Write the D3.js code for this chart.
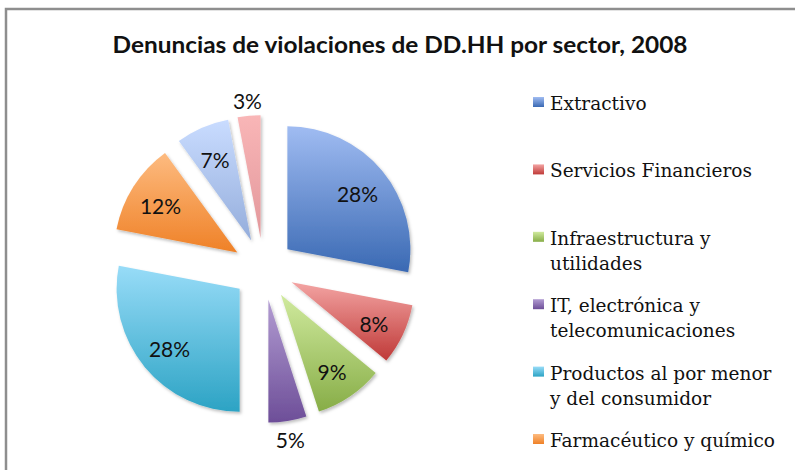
<!DOCTYPE html>
<html lang="es">
<head>
<meta charset="utf-8">
<title>Denuncias de violaciones de DD.HH por sector, 2008</title>
<script src="https://d3js.org/d3.v7.min.js"></script>
<style>
  body { margin: 0; background: #fff; }
  .slice-label { font-family: Lato, "Open Sans", sans-serif; font-size: 21px; fill: #111; }
  .legend-text { font-family: "DejaVu Serif", serif; font-size: 18.5px; fill: #111; }
</style>
</head>
<body>
<script>
  // ---- data ----
  const sectors = [
    "Extractivo",
    "Servicios Financieros",
    "Infraestructura y utilidades",
    "IT, electrónica y telecomunicaciones",
    "Productos al por menor y del consumidor",
    "Farmacéutico y químico",
    "Alimentos y bebidas",
    "Otros"
  ];
  const shares = [28, 8, 9, 5, 28, 12, 7, 3];
  // gradient stops per slice, top -> bottom
  const topColors    = ["#a0bcf2", "#f3a4a3", "#d0ea9e", "#b29cd2", "#98dcf8", "#fdbb80", "#c9dcff", "#f9b6b7"];
  const bottomColors = ["#3a69b3", "#bf3937", "#87ad47", "#6d4e98", "#2ca3c4", "#ef8127", "#94addb", "#e2979b"];

  const width = 795, height = 470;
  const cx = 263.5, cy = 269, radius = 123, explode = 31;

  const svg = d3.select("body").append("svg")
    .attr("width", width)
    .attr("height", height);

  const defs = svg.append("defs");

  const shadow = defs.append("filter")
    .attr("id", "shadow")
    .attr("x", "-20%").attr("y", "-20%")
    .attr("width", "140%").attr("height", "140%");
  shadow.append("feDropShadow")
    .attr("dx", 1.5).attr("dy", 2)
    .attr("stdDeviation", 1.5)
    .attr("flood-color", "#000")
    .attr("flood-opacity", 0.25);

  sectors.forEach((s, i) => {
    const g = defs.append("linearGradient")
      .attr("id", "grad" + i)
      .attr("x1", 0).attr("y1", 0)
      .attr("x2", 0).attr("y2", 1);
    g.append("stop").attr("offset", "0%").attr("stop-color", topColors[i]);
    g.append("stop").attr("offset", "100%").attr("stop-color", bottomColors[i]);
  });

  // frame (runs past the right and bottom edges, as in the original crop)
  svg.append("rect")
    .attr("x", 6).attr("y", 9)
    .attr("width", 820).attr("height", 500)
    .attr("fill", "#fff")
    .attr("stroke", "#8e8e8e")
    .attr("stroke-width", 2.5);

  // title
  svg.append("text")
    .attr("x", 400).attr("y", 53)
    .attr("text-anchor", "middle")
    .attr("font-family", "Lato, sans-serif")
    .attr("font-weight", "bold")
    .attr("font-size", 22)
    .attr("textLength", 575)
    .attr("lengthAdjust", "spacingAndGlyphs")
    .attr("fill", "#111")
    .text("Denuncias de violaciones de DD.HH por sector, 2008");

  // ---- pie ----
  const pie = d3.pie().sort(null).value(d => d);
  const arcs = pie(shares);
  const arc = d3.arc().innerRadius(0).outerRadius(radius);

  const dir = d => {
    const a = (d.startAngle + d.endAngle) / 2;
    return [Math.sin(a), -Math.cos(a)];
  };

  const pieG = svg.append("g").attr("transform", `translate(${cx},${cy})`);

  const slices = pieG.selectAll("g.slice")
    .data(arcs)
    .join("g")
    .attr("class", "slice")
    .attr("transform", d => {
      const [ux, uy] = dir(d);
      return `translate(${ux * explode},${uy * explode})`;
    });

  slices.append("path")
    .attr("d", arc)
    .attr("fill", (d, i) => `url(#grad${i})`)
    .attr("filter", "url(#shadow)");

  slices.append("text")
    .attr("class", "slice-label")
    .attr("text-anchor", "middle")
    .attr("dy", "0.36em")
    .attr("transform", d => {
      const [ux, uy] = dir(d);
      const r = d.data < 6 ? 140 : 91; // small slices get labels outside
      return `translate(${ux * r},${uy * r + 3})`;
    })
    .text(d => d.data + "%");

  // ---- legend ----
  const legendX = 533;
  const rowY = d3.scaleLinear().domain([0, 5]).range([103, 440]);
  const maxTextWidth = 235;

  function wrapText(textSel, fullText, boxWidth) {
    const words = fullText.split(/\s+/);
    let line = [];
    let tspan = textSel.append("tspan").attr("x", textSel.attr("x")).attr("dy", 0);
    words.forEach(w => {
      line.push(w);
      tspan.text(line.join(" "));
      if (tspan.node().getComputedTextLength() > boxWidth && line.length > 1) {
        line.pop();
        tspan.text(line.join(" "));
        line = [w];
        tspan = textSel.append("tspan")
          .attr("x", textSel.attr("x"))
          .attr("dy", 25)
          .text(w);
      }
    });
  }

  // only the rows that fall inside the visible chart area
  const legendRows = sectors
    .map((name, i) => ({ name, i }))
    .filter(d => rowY(d.i) < height - 15);

  const legend = svg.selectAll("g.legend")
    .data(legendRows)
    .join("g")
    .attr("class", "legend")
    .attr("transform", d => `translate(${legendX},${rowY(d.i)})`);

  legend.append("rect")
    .attr("x", 0).attr("y", -6)
    .attr("width", 11).attr("height", 10)
    .attr("fill", d => `url(#grad${d.i})`);

  legend.append("text")
    .attr("class", "legend-text")
    .attr("x", 17).attr("y", 7)
    .each(function(d) { wrapText(d3.select(this), d.name, maxTextWidth); });
</script>
</body>
</html>
